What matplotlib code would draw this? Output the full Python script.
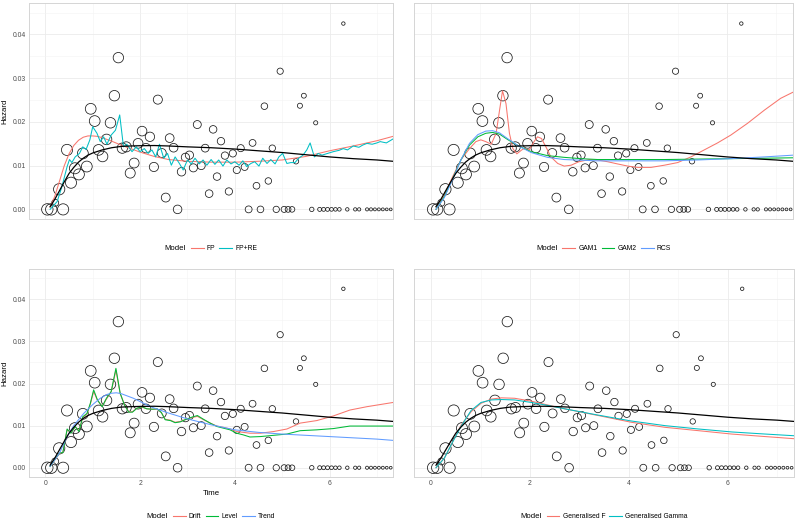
import numpy as np
import matplotlib
matplotlib.use("Agg")
import matplotlib.pyplot as plt
from matplotlib.offsetbox import HPacker
from matplotlib.lines import Line2D

plt.rcParams['font.family'] = ['Liberation Sans', 'DejaVu Sans']

# ---------------- observed monthly hazards ----------------
time = [0.042, 0.125, 0.208, 0.292, 0.375, 0.458, 0.542, 0.625, 0.708, 0.792,
        0.875, 0.958, 1.042, 1.125, 1.208, 1.292, 1.375, 1.458, 1.542, 1.625,
        1.708, 1.792, 1.875, 1.958, 2.042, 2.125, 2.208, 2.292, 2.375, 2.458,
        2.542, 2.625, 2.708, 2.792, 2.875, 2.958, 3.042, 3.125, 3.208, 3.292,
        3.375, 3.458, 3.542, 3.625, 3.708, 3.792, 3.875, 3.958, 4.042, 4.125,
        4.208, 4.292, 4.375, 4.458, 4.542, 4.625, 4.708, 4.792, 4.875, 4.958,
        5.042, 5.125, 5.208, 5.292, 5.375, 5.458, 5.542, 5.625, 5.708, 5.792,
        5.875, 5.958, 6.042, 6.125, 6.208, 6.292, 6.375, 6.458, 6.542, 6.625,
        6.708, 6.792, 6.875, 6.958, 7.042, 7.125, 7.208, 7.292]
nan = float('nan')
hazard = [0.0, 0.0, 0.0015, 0.0046, 0.0, 0.0136, 0.0061, 0.0094, 0.0080, 0.0128,
          0.0098, 0.0230, 0.0202, 0.0136, 0.0121, 0.0160, 0.0198, 0.0260, 0.0347, 0.0140,
          0.0143, 0.0083, 0.0106, 0.0151, 0.0179, 0.0140, 0.0166, 0.0097, 0.0251, 0.0129,
          0.0027, 0.0163, 0.0141, 0.0, 0.0086, 0.0119, 0.0124, 0.0095, 0.0194, 0.0100,
          0.0140, 0.0036, 0.0183, 0.0075, 0.0156, 0.0123, 0.0041, 0.0128, 0.0090, 0.0140,
          0.0097, 0.0, 0.0152, 0.0054, 0.0, 0.0236, 0.0065, 0.0140, 0.0, 0.0316,
          0.0, 0.0, 0.0, 0.0110, 0.0237, 0.0260, nan, 0.0, 0.0198, 0.0,
          0.0, 0.0, 0.0, 0.0, 0.0, 0.0425, 0.0, nan, 0.0, 0.0,
          nan, 0.0, 0.0, 0.0, 0.0, 0.0, 0.0, 0.0]
at_risk = [121, 120, 45, 118, 116, 115, 114, 113, 112, 110,
           109, 108, 107, 106, 104, 103, 102, 101, 100, 98,
           95, 93, 90, 88, 86, 83, 81, 78, 76, 74,
           73, 71, 69, 68, 66, 64, 63, 61, 59, 58,
           56, 54, 53, 52, 51, 50, 49, 48, 47, 46,
           45, 44, 43, 42, 41, 40, 39, 38, 37, 36,
           34, 31, 29, 27, 24, 22, 20, 18, 16, 15,
           14, 14, 13, 12, 12, 11, 11, 10, 10, 10,
           9, 9, 9, 8, 8, 8, 7, 7]

# ---------------- reference (black) curve ----------------
ref_t = [0.10, 0.2, 0.3, 0.4, 0.5, 0.6, 0.7, 0.8, 0.9, 1.0, 1.2, 1.4, 1.6, 1.8, 2.0,
         2.3, 2.6, 3.0, 3.5, 4.0, 4.5, 5.0, 5.5, 6.0, 6.5, 7.0, 7.34]
ref_h = [0.0006, 0.0023, 0.0043, 0.0063, 0.0082, 0.0096, 0.0108, 0.0117, 0.0124, 0.0129,
         0.0136, 0.0141, 0.0144, 0.0145, 0.01456, 0.0146, 0.0145, 0.0143, 0.0141, 0.0138,
         0.0134, 0.0130, 0.0125, 0.0120, 0.0116, 0.0113, 0.0110]

# ---------------- panel 1: FP, FP+RE ----------------
fp_t = [0.1, 0.2, 0.3, 0.4, 0.5, 0.6, 0.7, 0.8, 0.9, 1.0, 1.1, 1.2, 1.4, 1.6, 1.8, 2.0,
        2.3, 2.6, 3.0, 3.5, 4.0, 4.5, 5.0, 5.5, 6.0, 6.5, 7.0, 7.34]
fp_h = [0.0005, 0.0030, 0.0065, 0.0100, 0.0127, 0.0146, 0.0158, 0.0165, 0.0168, 0.0168,
        0.0167, 0.0164, 0.0156, 0.0147, 0.0139, 0.0131, 0.0121, 0.0114, 0.0110, 0.0108,
        0.0108, 0.0110, 0.0113, 0.0121, 0.0134, 0.0145, 0.0157, 0.0167]
fpre_t = [0.10, 0.25, 0.35, 0.46, 0.51, 0.56, 0.63, 0.72, 0.79, 0.86, 0.94, 1.00, 1.09,
          1.16, 1.23, 1.30, 1.39, 1.48, 1.57, 1.65, 1.72, 1.83, 1.92, 2.00, 2.09, 2.17,
          2.25, 2.33, 2.41, 2.50, 2.58, 2.66, 2.74, 2.83, 2.91, 3.00, 3.08, 3.16, 3.25,
          3.33, 3.41, 3.50, 3.58, 3.66, 3.75, 3.83, 3.92, 4.00, 4.09, 4.17, 4.25, 4.34,
          4.42, 4.51, 4.59, 4.68, 4.76, 4.85, 4.93, 5.01, 5.10, 5.18, 5.27, 5.35, 5.44,
          5.52, 5.59, 5.68, 5.76, 5.84, 5.93, 6.08, 6.20, 6.29, 6.38, 6.50, 6.62, 6.70,
          6.79, 6.90, 7.00, 7.07, 7.20, 7.34]
fpre_h = [0.0000, 0.0018, 0.0052, 0.0098, 0.0114, 0.0107, 0.0120, 0.0128, 0.0143, 0.0137,
          0.0159, 0.0189, 0.0174, 0.0155, 0.0166, 0.0149, 0.0170, 0.0181, 0.0216, 0.0143,
          0.0149, 0.0132, 0.0143, 0.0132, 0.0139, 0.0128, 0.0136, 0.0120, 0.0149, 0.0117,
          0.0128, 0.0101, 0.0120, 0.0105, 0.0090, 0.0113, 0.0104, 0.0117, 0.0104, 0.0113,
          0.0101, 0.0114, 0.0103, 0.0113, 0.0099, 0.0113, 0.0104, 0.0109, 0.0101, 0.0111,
          0.0098, 0.0105, 0.0109, 0.0099, 0.0117, 0.0105, 0.0114, 0.0104, 0.0120, 0.0128,
          0.0105, 0.0107, 0.0107, 0.0117, 0.0124, 0.0136, 0.0152, 0.0120, 0.0128, 0.0124,
          0.0127, 0.0132, 0.0135, 0.0139, 0.0136, 0.0145, 0.0142, 0.0147, 0.0151, 0.0149,
          0.0152, 0.0155, 0.0152, 0.0161]

# ---------------- panel 2: GAM1, GAM2, RCS ----------------
gam1_t = [0.10, 0.27, 0.44, 0.61, 0.78, 0.91, 1.01, 1.11, 1.22, 1.32, 1.39, 1.45, 1.52,
          1.59, 1.66, 1.74, 1.84, 1.89, 1.99, 2.09, 2.16, 2.24, 2.33, 2.43, 2.57, 2.70,
          2.84, 3.00, 3.21, 3.38, 3.58, 3.78, 3.99, 4.19, 4.46, 4.73, 5.00, 5.27, 5.54,
          5.81, 6.08, 6.42, 6.76, 7.09, 7.34]
gam1_h = [0.0000, 0.0033, 0.0075, 0.0114, 0.0139, 0.0155, 0.0159, 0.0155, 0.0149, 0.0174,
          0.0227, 0.0271, 0.0242, 0.0174, 0.0139, 0.0127, 0.0136, 0.0139, 0.0136, 0.0155,
          0.0166, 0.0162, 0.0143, 0.0120, 0.0105, 0.0099, 0.0101, 0.0109, 0.0114, 0.0113,
          0.0109, 0.0104, 0.0099, 0.0096, 0.0096, 0.0101, 0.0107, 0.0120, 0.0136, 0.0152,
          0.0170, 0.0197, 0.0227, 0.0254, 0.0268]
gam2_t = [0.10, 0.27, 0.44, 0.61, 0.78, 0.95, 1.11, 1.25, 1.39, 1.55, 1.76, 2.03, 2.36,
          2.70, 3.04, 3.38, 4.05, 4.73, 5.41, 6.08, 6.76, 7.34]
gam2_h = [0.0000, 0.0029, 0.0071, 0.0114, 0.0147, 0.0166, 0.0174, 0.0176, 0.0172, 0.0160,
          0.0146, 0.0132, 0.0123, 0.0119, 0.0116, 0.0114, 0.0114, 0.0114, 0.0115, 0.0116,
          0.0117, 0.0118]
rcs_t = [0.10, 0.27, 0.44, 0.61, 0.78, 0.95, 1.11, 1.25, 1.39, 1.55, 1.76, 2.03, 2.36,
         2.70, 3.38, 4.05, 4.73, 5.41, 6.08, 6.76, 7.34]
rcs_h = [0.0000, 0.0027, 0.0069, 0.0114, 0.0151, 0.0171, 0.0179, 0.0180, 0.0175, 0.0162,
         0.0146, 0.0130, 0.0119, 0.0114, 0.0111, 0.0111, 0.0111, 0.0113, 0.0116, 0.0120,
         0.0124]

# ---------------- panel 3: Drift, Level, Trend ----------------
level_t = [0.10, 0.21, 0.30, 0.37, 0.46, 0.54, 0.63, 0.71, 0.79, 0.88, 0.95, 1.02, 1.10,
           1.20, 1.29, 1.39, 1.49, 1.58, 1.67, 1.76, 1.84, 1.93, 2.04, 2.14, 2.25, 2.36,
           2.45, 2.53, 2.64, 2.74, 2.85, 2.95, 3.09, 3.21, 3.34, 3.48, 3.62, 3.76, 3.90,
           4.04, 4.18, 4.32, 4.54, 4.82, 5.10, 5.38, 5.73, 6.08, 6.43, 6.79, 7.34]
level_h = [0.0003, 0.0021, 0.0035, 0.0036, 0.0092, 0.0082, 0.0098, 0.0086, 0.0121, 0.0129,
           0.0153, 0.0185, 0.0161, 0.0145, 0.0165, 0.0181, 0.0236, 0.0177, 0.0149, 0.0132,
           0.0132, 0.0141, 0.0145, 0.0140, 0.0139, 0.0140, 0.0131, 0.0114, 0.0112, 0.0107,
           0.0109, 0.0114, 0.0120, 0.0124, 0.0115, 0.0106, 0.0098, 0.0094, 0.0090, 0.0082,
           0.0078, 0.0073, 0.0074, 0.0077, 0.0080, 0.0088, 0.0090, 0.0093, 0.0099, 0.0099,
           0.0099]
drift_t = [0.10, 0.21, 0.30, 0.37, 0.46, 0.54, 0.63, 0.71, 0.79, 0.88, 0.95, 1.02, 1.10,
           1.20, 1.29, 1.39, 1.49, 1.58, 1.67, 1.76, 1.84, 1.93, 2.04, 2.14, 2.25, 2.36,
           2.45, 2.53, 2.64, 2.74, 2.85, 2.95, 3.09, 3.21, 3.34, 3.48, 3.62, 3.76, 3.90,
           4.04, 4.18, 4.32, 4.54, 4.82, 5.10, 5.38, 5.73, 6.08, 6.43, 6.79, 7.34]
drift_h = [0.0003, 0.0020, 0.0034, 0.0037, 0.0090, 0.0083, 0.0097, 0.0088, 0.0119, 0.0128,
           0.0151, 0.0181, 0.0160, 0.0146, 0.0163, 0.0180, 0.0232, 0.0176, 0.0150, 0.0133,
           0.0133, 0.0141, 0.0144, 0.0140, 0.0139, 0.0139, 0.0131, 0.0115, 0.0113, 0.0108,
           0.0110, 0.0114, 0.0119, 0.0122, 0.0114, 0.0106, 0.0099, 0.0096, 0.0092, 0.0086,
           0.0084, 0.0082, 0.0082, 0.0086, 0.0092, 0.0106, 0.0112, 0.0123, 0.0137, 0.0145,
           0.0155]
trend_t = [0.10, 0.30, 0.46, 0.60, 0.81, 1.00, 1.16, 1.30, 1.40, 1.50, 1.60, 1.86, 2.22,
           2.57, 3.00, 3.50, 4.00, 4.50, 5.00, 5.50, 6.00, 6.50, 7.00, 7.34]
trend_h = [0.0003, 0.0035, 0.0074, 0.0100, 0.0129, 0.0150, 0.0165, 0.0174, 0.0177, 0.0178,
           0.0176, 0.0165, 0.0145, 0.0131, 0.0116, 0.0102, 0.0090, 0.0084, 0.0080, 0.0077,
           0.0074, 0.0071, 0.0068, 0.0065]

# ---------------- panel 4: Generalised F / Gamma ----------------
genf_t = [0.10, 0.27, 0.44, 0.61, 0.81, 1.01, 1.22, 1.42, 1.69, 2.03, 2.36, 2.70, 3.38,
          4.05, 4.73, 5.41, 6.08, 6.76, 7.34]
genf_h = [0.0000, 0.0023, 0.0062, 0.0102, 0.0133, 0.0153, 0.0163, 0.0166, 0.0165, 0.0158,
          0.0149, 0.0140, 0.0124, 0.0108, 0.0096, 0.0088, 0.0080, 0.0074, 0.0069]
gengam_t = [0.10, 0.27, 0.44, 0.61, 0.81, 1.01, 1.22, 1.42, 1.69, 2.03, 2.36, 2.70, 3.38,
            4.05, 4.73, 5.41, 6.08, 6.76, 7.34]
gengam_h = [0.0000, 0.0023, 0.0062, 0.0099, 0.0136, 0.0155, 0.0161, 0.0162, 0.0161, 0.0155,
            0.0148, 0.0140, 0.0125, 0.0111, 0.0100, 0.0092, 0.0085, 0.0080, 0.0076]

RED, TEAL = '#F8766D', '#00BFC4'
RED3, GREEN3, BLUE3 = '#F8766D', '#00BA38', '#619CFF'

W, H = 796, 522
fig = plt.figure(figsize=(W / 100, H / 100), dpi=100)


def add_ax(l, t, r, b):
    return fig.add_axes([l / W, 1 - b / H, (r - l) / W, (b - t) / H])


def style(ax, ylabels, xlabels):
    ax.set_xlim(-0.345, 7.34)
    ax.set_ylim(-0.0022, 0.0472)
    ax.set_xticks([0, 2, 4, 6])
    ax.set_xticks([1, 3, 5, 7], minor=True)
    ax.set_yticks([0, 0.01, 0.02, 0.03, 0.04])
    ax.set_yticks([0.005, 0.015, 0.025, 0.035, 0.045], minor=True)
    ax.set_yticklabels(['0.00', '0.01', '0.02', '0.03', '0.04'])
    ax.set_xticklabels(['0', '2', '4', '6'])
    ax.grid(which='major', color='#EBEBEB', lw=0.6)
    ax.grid(which='minor', color='#F3F3F3', lw=0.4)
    ax.set_axisbelow(True)
    for s in ax.spines.values():
        s.set_color('#D5D5D5')
        s.set_linewidth(0.7)
    ax.tick_params(which='both', length=0, labelsize=4.9, labelcolor='#4D4D4D', pad=2.4,
                   labelleft=ylabels, labelbottom=xlabels)


def points(ax):
    ax.scatter(time, hazard, s=np.array(at_risk) * 0.56, facecolors='none',
               edgecolors='#1a1a1a', linewidths=0.55, zorder=2)


def ref(ax):
    ax.plot(ref_t, ref_h, color='black', lw=0.9, zorder=4)


def model_legend(ax, colors, labels, cx, cy):
    handles = [Line2D([], [], color=c, lw=0.8) for c in colors]
    leg = ax.legend(handles, labels, loc='center', bbox_to_anchor=(cx / W, 1 - cy / H),
                    bbox_transform=fig.transFigure, ncol=len(labels), frameon=False,
                    title='Model', fontsize=4.9, title_fontsize=5.6, handlelength=1.9,
                    handletextpad=0.45, columnspacing=0.6, borderpad=0, borderaxespad=0)
    try:
        box = HPacker(pad=0, sep=3.6, align='center',
                      children=[leg._legend_title_box, leg._legend_handle_box])
        box.set_figure(fig)
        box.axes = ax
        leg._legend_box = box
        leg._set_loc(leg._loc)
    except Exception:
        pass
    return leg


# top-left
ax1 = add_ax(29, 3, 393, 219)
style(ax1, True, False)
points(ax1)
ax1.plot(fp_t, fp_h, color=RED, lw=0.75, zorder=3)
ax1.plot(fpre_t, fpre_h, color=TEAL, lw=0.75, zorder=3)
ref(ax1)
model_legend(ax1, [RED, TEAL], ['FP', 'FP+RE'], 211, 249)

# top-right
ax2 = add_ax(414, 3, 793, 219)
style(ax2, False, False)
points(ax2)
ax2.plot(gam1_t, gam1_h, color=RED3, lw=0.75, zorder=3)
ax2.plot(gam2_t, gam2_h, color=GREEN3, lw=0.75, zorder=3)
ax2.plot(rcs_t, rcs_h, color=BLUE3, lw=0.75, zorder=3)
ref(ax2)
model_legend(ax2, [RED3, GREEN3, BLUE3], ['GAM1', 'GAM2', 'RCS'], 603.5, 249)

# bottom-left
ax3 = add_ax(29, 269, 393, 477)
style(ax3, True, True)
points(ax3)
ax3.plot(drift_t, drift_h, color=RED3, lw=0.75, zorder=3)
ax3.plot(level_t, level_h, color=GREEN3, lw=0.75, zorder=3)
ax3.plot(trend_t, trend_h, color=BLUE3, lw=0.75, zorder=3)
ref(ax3)
model_legend(ax3, [RED3, GREEN3, BLUE3], ['Drift', 'Level', 'Trend'], 211, 516.5)

# bottom-right
ax4 = add_ax(414, 269, 794, 477)
style(ax4, False, True)
points(ax4)
ax4.plot(genf_t, genf_h, color=RED, lw=0.75, zorder=3)
ax4.plot(gengam_t, gengam_h, color=TEAL, lw=0.75, zorder=3)
ref(ax4)
model_legend(ax4, [RED, TEAL], ['Generalised F', 'Generalised Gamma'], 604, 516.5)

# axis titles
fig.text(5 / W, 1 - 111 / H, 'Hazard', rotation=90, ha='center', va='center', fontsize=5.6)
fig.text(5 / W, 1 - 373 / H, 'Hazard', rotation=90, ha='center', va='center', fontsize=5.6)
fig.text(211 / W, 1 - 493.5 / H, 'Time', ha='center', va='center', fontsize=5.6)

fig.savefig('out.png', dpi=100)
